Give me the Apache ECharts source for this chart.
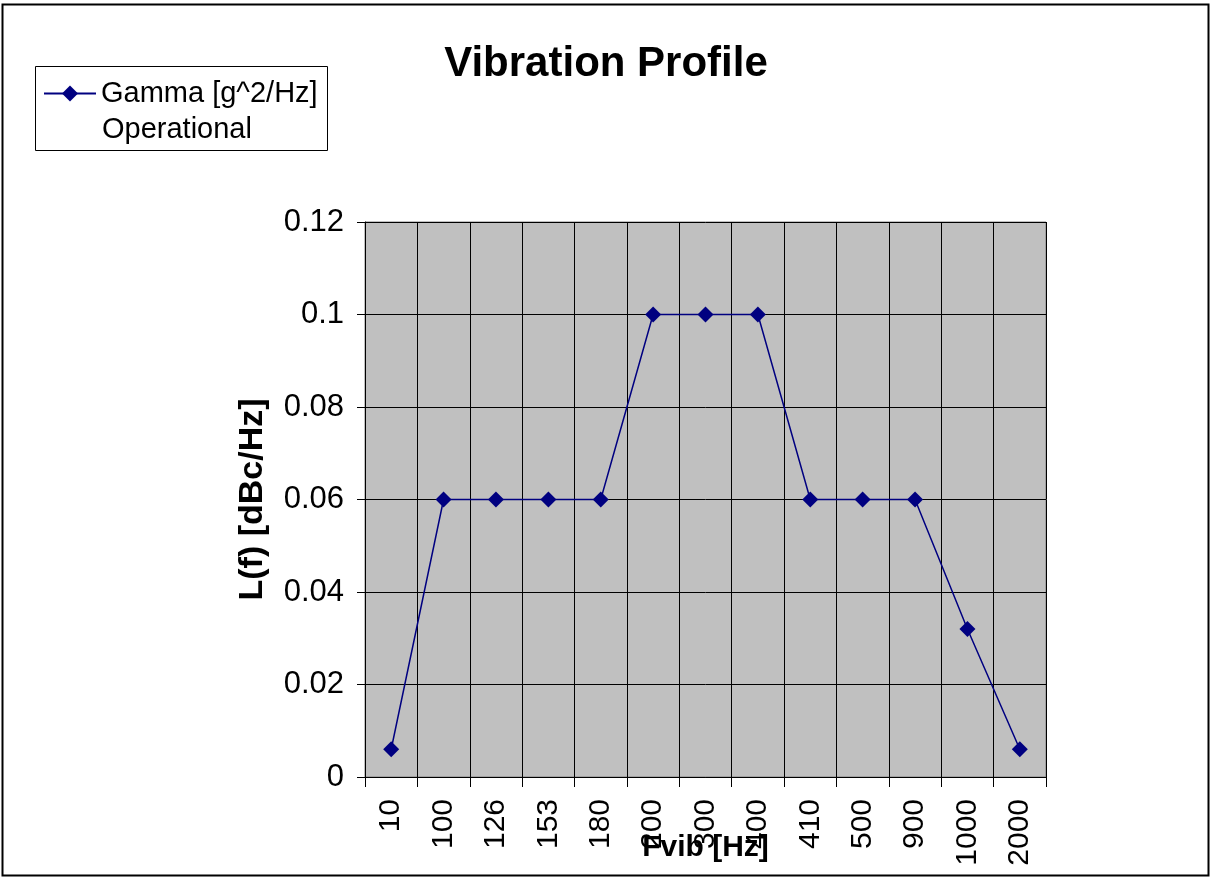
<!DOCTYPE html>
<html><head><meta charset="utf-8">
<script src="https://cdn.jsdelivr.net/npm/echarts@6/dist/echarts.min.js"></script>
<style>html,body{margin:0;padding:0;background:#fff}#c{width:1212px;height:878px}</style>
</head><body><div id="c"></div>
<script>
var categories = ['10','100','126','153','180','200','300','400','410','500','900','1000','2000'];
var gammaOperational = [0.006,0.06,0.06,0.06,0.06,0.1,0.1,0.1,0.06,0.06,0.06,0.032,0.006];
var seriesName = 'Gamma [g^2/Hz]\nOperational';
var nameLines = seriesName.split('\n');
var FONT = '"Liberation Sans", Arial, sans-serif';
var chart = echarts.init(document.getElementById('c'), null, {renderer:'canvas'});
chart.setOption({
  backgroundColor:'#ffffff',
  animation:false,
  textStyle:{fontFamily:FONT},
  title:{text:'Vibration Profile', left:'center', top:38,
    textStyle:{fontFamily:FONT, fontSize:42, fontWeight:'bold', color:'#000'}},
  legend:{left:43, top:79, itemWidth:52, itemHeight:20, itemGap:0, padding:0,
    formatter:function(n){return n.split('\n')[0];},
    textStyle:{fontFamily:FONT, fontSize:29, color:'#000'},
    data:[seriesName]},
  graphic:[
    {type:'rect', shape:{x:35.5,y:66.5,width:292,height:84}, style:{fill:'none', stroke:'#000', lineWidth:1}, silent:true, z:-1},
    {type:'text', left:102, top:115, style:{text:nameLines[1], font:'29px "Liberation Sans", Arial, sans-serif', fill:'#000'}, silent:true},
    {type:'rect', shape:{x:2.5,y:4.5,width:1206,height:871}, style:{fill:'none', stroke:'#000', lineWidth:2}, silent:true}
  ],
  grid:{left:365, right:1212-1046, top:222, bottom:878-777, show:true, outerBoundsMode:'none', containLabel:false,
    backgroundColor:'#C0C0C0', borderColor:'#808080', borderWidth:1},
  xAxis:{type:'category', data:categories, boundaryGap:true,
    name:'Fvib [Hz]', nameLocation:'middle', nameGap:56, nameMoveOverlap:false,
    nameTextStyle:{fontFamily:FONT, fontSize:30, fontWeight:'bold', color:'#000'},
    axisLine:{lineStyle:{color:'#000', width:1}},
    axisTick:{show:true, interval:0, length:10, lineStyle:{color:'#000'}},
    axisLabel:{interval:0, rotate:90, margin:22, fontFamily:FONT, fontSize:30, color:'#000'},
    splitLine:{show:true, interval:0, lineStyle:{color:'#000', width:1}}},
  yAxis:{type:'value', min:0, max:0.12, interval:0.02,
    name:'L(f) [dBc/Hz]', nameLocation:'middle', nameGap:95, nameRotate:90, nameMoveOverlap:false,
    nameTextStyle:{fontFamily:FONT, fontSize:34, fontWeight:'bold', color:'#000'},
    axisLine:{show:true, lineStyle:{color:'#000', width:1}},
    axisTick:{show:true, length:8, lineStyle:{color:'#000'}},
    axisLabel:{margin:21, fontFamily:FONT, fontSize:31, color:'#000'},
    splitLine:{show:true, lineStyle:{color:'#000', width:1}}},
  series:[{name:seriesName, type:'line', data:gammaOperational,
    symbol:'diamond', symbolSize:16, showAllSymbol:true,
    lineStyle:{color:'#000080', width:1.5},
    itemStyle:{color:'#000080', borderWidth:0}}]
});
</script></body></html>
